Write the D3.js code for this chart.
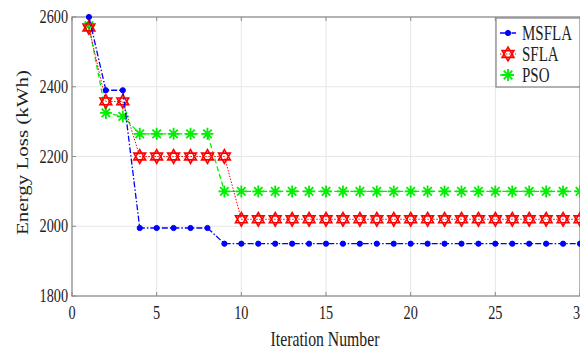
<!DOCTYPE html>
<html>
<head>
<meta charset="utf-8">
<script src="https://cdn.jsdelivr.net/npm/d3@7"></script>
<style>
  body { margin: 0; background: #fff; }
  svg { display: block; }
  text { font-family: "Liberation Serif", "Times New Roman", serif; fill: #222; }
</style>
</head>
<body>
<div id="chart"></div>
<script>
var width = 580, height = 350;

// data
var iterations = d3.range(1, 31);
var msfla = [2600, 2390, 2390, 1995, 1995, 1995, 1995, 1995].concat(d3.range(22).map(function () { return 1950; }));
var sfla = [2570, 2358, 2358, 2200, 2200, 2200, 2200, 2200, 2200].concat(d3.range(21).map(function () { return 2020; }));
var pso = [2575, 2325, 2315, 2265, 2265, 2265, 2265, 2265].concat(d3.range(22).map(function () { return 2100; }));
var xTicks = [0, 5, 10, 15, 20, 25, 30];
var yTicks = [1800, 2000, 2200, 2400, 2600];
var seriesNames = ["MSFLA", "SFLA", "PSO"];

var sx = 0.75; // text in the picture looks squeezed sideways

var x = d3.scaleLinear().domain([0, 30]).range([72, 580]);
var y = d3.scaleLinear().domain([1800, 2600]).range([296, 17]);

var svg = d3.select("#chart").append("svg").attr("width", width).attr("height", height);

// grid
svg.append("g").selectAll("line").data(xTicks.slice(1, -1)).enter().append("line")
  .attr("x1", function (d) { return x(d); }).attr("x2", function (d) { return x(d); })
  .attr("y1", y(2600)).attr("y2", y(1800))
  .style("stroke", "#e6e6e6").style("stroke-width", 1);
svg.append("g").selectAll("line").data(yTicks.slice(1, -1)).enter().append("line")
  .attr("x1", x(0)).attr("x2", x(30))
  .attr("y1", function (d) { return y(d); }).attr("y2", function (d) { return y(d); })
  .style("stroke", "#e6e6e6").style("stroke-width", 1);

// box
svg.append("rect").attr("x", x(0)).attr("y", y(2600))
  .attr("width", x(30) - x(0)).attr("height", y(1800) - y(2600))
  .style("fill", "none").style("stroke", "#8a8a8a").style("stroke-width", 1.3);

// ticks (inside)
svg.append("g").selectAll("line").data(xTicks).enter().append("line")
  .attr("x1", function (d) { return x(d); }).attr("x2", function (d) { return x(d); })
  .attr("y1", y(1800)).attr("y2", y(1800) - 4).style("stroke", "#8a8a8a");
svg.append("g").selectAll("line").data(xTicks).enter().append("line")
  .attr("x1", function (d) { return x(d); }).attr("x2", function (d) { return x(d); })
  .attr("y1", y(2600)).attr("y2", y(2600) + 4).style("stroke", "#8a8a8a");
svg.append("g").selectAll("line").data(yTicks).enter().append("line")
  .attr("x1", x(0)).attr("x2", x(0) + 4)
  .attr("y1", function (d) { return y(d); }).attr("y2", function (d) { return y(d); }).style("stroke", "#8a8a8a");

// tick labels
svg.append("g").selectAll("text").data(xTicks).enter().append("text")
  .attr("transform", function (d) { return "translate(" + x(d) + "," + (y(1800) + 23) + ") scale(" + sx + ",1)"; })
  .attr("text-anchor", "middle").style("font-size", "19px")
  .text(function (d) { return d; });
svg.append("g").selectAll("text").data(yTicks).enter().append("text")
  .attr("transform", function (d) { return "translate(" + (x(0) - 4) + "," + (y(d) + 6) + ") scale(" + sx + ",1)"; })
  .attr("text-anchor", "end").style("font-size", "19px")
  .text(function (d) { return d; });

// axis titles
svg.append("text")
  .attr("transform", "translate(" + ((x(0) + x(30)) / 2 - 1) + ",346) scale(" + sx + ",1)")
  .attr("text-anchor", "middle").style("font-size", "21px")
  .text("Iteration Number");
svg.append("text")
  .attr("transform", "translate(28," + ((y(1800) + y(2600)) / 2 - 4) + ") rotate(-90) scale(1," + sx + ")")
  .attr("text-anchor", "middle").style("font-size", "21px")
  .text("Energy Loss (kWh)");

// marker shapes
function hexagram(r) {
  var p1 = [], p2 = [];
  for (var i = 0; i < 3; i++) {
    var a1 = -Math.PI / 2 + i * 2 * Math.PI / 3;
    var a2 = Math.PI / 2 + i * 2 * Math.PI / 3;
    p1.push([r * Math.cos(a1), r * Math.sin(a1)]);
    p2.push([r * Math.cos(a2), r * Math.sin(a2)]);
  }
  return "M" + p1.join("L") + "Z" + "M" + p2.join("L") + "Z";
}
function asterisk(r) {
  var d = "", k = r * Math.SQRT1_2;
  d += "M0," + (-r) + "L0," + r;
  d += "M" + (-r) + ",0L" + r + ",0";
  d += "M" + (-k) + "," + (-k) + "L" + k + "," + k;
  d += "M" + (-k) + "," + k + "L" + k + "," + (-k);
  return d;
}

var series = [
  { name: seriesNames[0], values: msfla, color: "#0000ff", dash: "6,2,1.5,2", width: 1.3, marker: "dot" },
  { name: seriesNames[1], values: sfla, color: "#ff0000", dash: "1.5,1.5", width: 1, marker: "hex" },
  { name: seriesNames[2], values: pso, color: "#00ee00", dash: "5,3", width: 1.3, marker: "ast" }
];

var line = d3.line()
  .x(function (d, i) { return x(iterations[i]); })
  .y(function (d) { return y(d); });

function drawMarker(g, kind, color) {
  if (kind === "dot") {
    g.append("circle").attr("r", 2.6).style("fill", color).style("stroke", color);
  } else if (kind === "hex") {
    g.append("path").attr("d", hexagram(6.8)).style("fill", "none").style("stroke", color).style("stroke-width", 1.6);
  } else {
    g.append("path").attr("d", asterisk(6)).style("fill", "none").style("stroke", color).style("stroke-width", 1.8);
  }
}

// draw back to front: PSO, SFLA, MSFLA
series.slice().reverse().forEach(function (s) {
  svg.append("path").datum(s.values).attr("d", line)
    .style("fill", "none").style("stroke", s.color)
    .style("stroke-width", s.width).style("stroke-dasharray", s.dash);
  var pts = svg.append("g").selectAll("g").data(s.values).enter().append("g")
    .attr("transform", function (d, i) { return "translate(" + x(iterations[i]) + "," + y(d) + ")"; });
  pts.each(function () { drawMarker(d3.select(this), s.marker, s.color); });
});

// legend
var lg = svg.append("g").attr("transform", "translate(496,18)");
lg.append("rect").attr("width", 84).attr("height", 69)
  .style("fill", "#fff").style("stroke", "#8a8a8a").style("stroke-width", 1.3);
series.forEach(function (s, i) {
  var row = lg.append("g").attr("transform", "translate(0," + (15 + i * 21) + ")");
  row.append("line").attr("x1", 4).attr("x2", 20).attr("y1", 0).attr("y2", 0)
    .style("stroke", s.color).style("stroke-width", s.width).style("stroke-dasharray", s.dash);
  var m = row.append("g").attr("transform", "translate(12,0)");
  drawMarker(m, s.marker, s.color);
  row.append("text").attr("transform", "translate(26,7) scale(" + sx + ",1)")
    .style("font-size", "20px").text(s.name);
});
</script>
</body>
</html>
